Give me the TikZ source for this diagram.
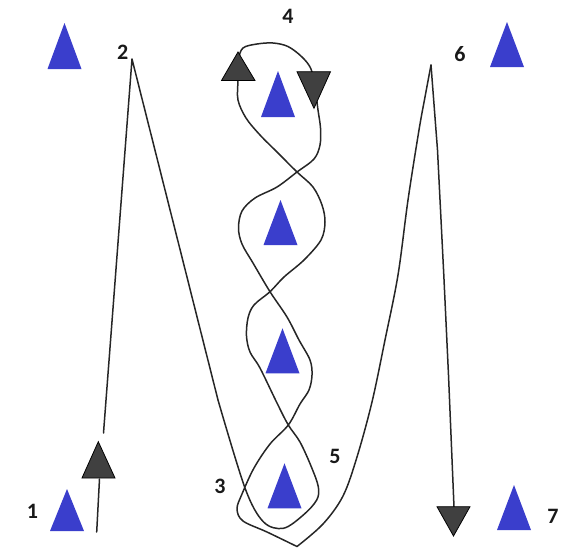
\documentclass[tikz,border=0pt]{standalone}
\usepackage{fontspec}
\setmainfont{Carlito}
\definecolor{coneblue}{RGB}{58,62,204}
\definecolor{darkhead}{RGB}{64,64,64}
\newcommand\conetri[3]{\fill[coneblue] (#1-17,#2) -- (#1,#3) -- (#1+17,#2) -- cycle;}
\begin{document}
\begin{tikzpicture}[x=1pt,y=-1pt,
  trail/.style={line width=1.5pt, black!85, line join=round, line cap=round},
  headshape/.style={fill=darkhead, draw=black, line width=0.8pt, line join=miter},
  lbl/.style={font=\fontsize{22}{22}\selectfont\bfseries, text=black!90, inner sep=0pt}]
\useasboundingbox (0,0) rectangle (563,550);

% key points
\coordinate (start) at (96.7,532);
\coordinate (peakTwo) at (132,59);
\coordinate (diag) at (218,400);
\coordinate (tip) at (297,546.5);
\coordinate (peakSix) at (431,65);
\coordinate (endSeven) at (454,507);

% path 1 -> 2 -> 3
\draw[trail] (start) -- (99.5,479);
\draw[trail] (103.5,433) -- (peakTwo) -- (diag);
% slalom up (inner loop), over the top, slalom down (outer loop)
\draw[trail] plot[smooth, tension=0.55] coordinates {
  (218,400) (245,488) (263.3,521.7) (283.3,528.3) (303.3,515) (316.7,500)
  (318.3,486.7) (311,466) (300,442) (288.3,425) (277,403) (260,368)
  (250,352) (246.5,336) (248,318) (254,305) (270,291.7) (284,277) (304,260)
  (321,240) (325,222) (322,205) (313,187) (297,172) (277,152) (260,135)
  (246,118) (238,100) (238,80) (238.5,60) (243,48) (257,44) (273,43)
  (288,46.5) (302,57) (311,69) (315,88) (318,110) (320.5,128) (320,145)
  (314,159) (297,172) (277,187) (255,198) (242,211) (238.5,228) (242,244)
  (253,263) (270,291.7) (287,317) (299,340) (310,360) (312,375) (309,390)
  (300,404) (288.3,425) (270,444) (254,468) (242,494) (237,509) (243,521)
  (267,532) (297,546.5)};
% 5 -> 6
\draw[trail] plot[smooth, tension=0.55] coordinates {
  (297,546.5) (323,524) (343,496) (357,457) (372,402) (385,340) (398,275)
  (408,200) (419,130) (425,97) (431,65)};
% 6 -> 7
\draw[trail] (peakSix) -- (437.5,150) -- (443.8,275) -- (448.5,375) -- (endSeven);

% cones
\conetri{64.5}{69}{23}
\conetri{507}{67}{22}
\conetri{278}{117}{71}
\conetri{280.5}{245}{200}
\conetri{282.5}{373.3}{328.3}
\conetri{284.5}{508.3}{463.3}
\conetri{67}{531}{489}
\conetri{514}{530}{485}

% dark arrowheads
\draw[headshape] (82,478) -- (98.3,441.7) -- (115,478) -- cycle;
\draw[headshape] (221.5,80.5) -- (238,52) -- (255,80.5) -- cycle;
\draw[headshape] (297,71.7) -- (314,108.3) -- (330.5,71.7) -- cycle;
\draw[headshape] (437,506.7) -- (453.5,536) -- (470,506.7) -- cycle;

% labels
\node[lbl] (l1) at (32.4,511) {1};
\node[lbl] (l2) at (122.7,52) {2};
\node[lbl] (l3) at (220,486) {3};
\node[lbl] (l4) at (288,16) {4};
\node[lbl] (l5) at (335,456) {5};
\node[lbl] (l6) at (460,54) {6};
\node[lbl] (l7) at (553,516) {7};
\end{tikzpicture}
\end{document}
